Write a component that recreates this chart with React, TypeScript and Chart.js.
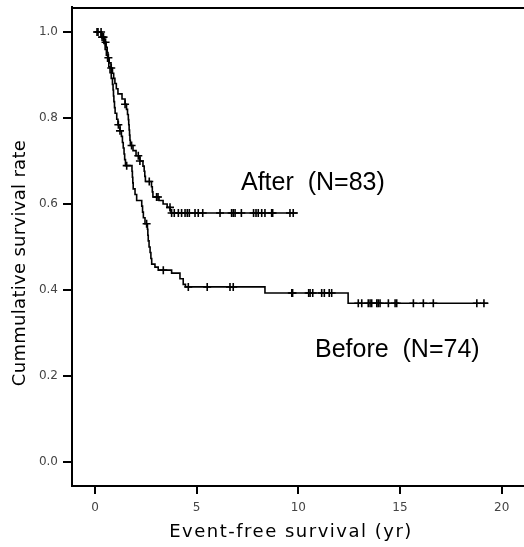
import { useEffect, useRef } from "react";
import { Chart, registerables } from "chart.js";

Chart.register(...registerables);

// Kaplan-Meier step points (time in years, cumulative survival after the event)
const afterTimes = [0, 0.3, 0.45, 0.55, 0.6, 0.64, 0.7, 0.79, 0.86, 0.92, 0.98, 1.05, 1.13, 1.33, 1.48, 1.55, 1.6, 1.64, 1.66, 1.68, 1.7, 1.72, 1.74, 1.87, 2.02, 2.21, 2.36, 2.42, 2.45, 2.48, 2.78, 2.82, 2.85, 3.15, 3.35, 3.55, 3.7, 3.74, 9.98];
const afterSurv = [1.0, 0.988, 0.976, 0.964, 0.952, 0.94, 0.928, 0.916, 0.904, 0.892, 0.88, 0.868, 0.856, 0.844, 0.832, 0.82, 0.808, 0.796, 0.784, 0.772, 0.76, 0.748, 0.736, 0.724, 0.712, 0.7, 0.688, 0.676, 0.664, 0.652, 0.64, 0.628, 0.616, 0.608, 0.6, 0.592, 0.584, 0.579, 0.579];

const beforeTimes = [0, 0.34, 0.44, 0.5, 0.56, 0.62, 0.68, 0.74, 0.8, 0.86, 0.89, 0.91, 0.93, 0.96, 0.99, 1.07, 1.13, 1.23, 1.3, 1.35, 1.39, 1.43, 1.46, 1.5, 1.82, 1.84, 1.86, 1.88, 1.97, 2.05, 2.3, 2.34, 2.38, 2.46, 2.58, 2.6, 2.62, 2.66, 2.71, 2.75, 2.79, 2.95, 3.11, 3.77, 4.18, 4.34, 4.45, 8.36, 12.45, 19.35];
const beforeSurv = [1.0, 0.986, 0.973, 0.959, 0.946, 0.932, 0.919, 0.905, 0.892, 0.878, 0.865, 0.851, 0.838, 0.824, 0.811, 0.797, 0.784, 0.77, 0.757, 0.743, 0.73, 0.716, 0.703, 0.689, 0.676, 0.662, 0.649, 0.635, 0.622, 0.608, 0.595, 0.581, 0.568, 0.554, 0.541, 0.527, 0.514, 0.5, 0.487, 0.473, 0.46, 0.453, 0.446, 0.439, 0.426, 0.413, 0.407, 0.393, 0.369, 0.369];

// Censored observations (years)
const afterCensor = [0.1, 0.35, 0.42, 0.52, 0.66, 0.8, 1.48, 1.8, 2.13, 2.21, 2.67, 3.03, 3.1, 3.69, 3.77, 3.9, 4.1, 4.26, 4.43, 4.54, 4.64, 4.92, 5.08, 5.3, 6.15, 6.72, 6.8, 6.89, 7.2, 7.8, 7.92, 8.03, 8.2, 8.36, 8.69, 8.74, 9.59, 9.75];
const beforeCensor = [0.15, 0.3, 1.15, 1.23, 1.56, 2.54, 3.36, 4.59, 5.52, 6.64, 6.8, 9.68, 9.72, 10.51, 10.58, 10.71, 11.15, 11.28, 11.52, 11.64, 12.95, 13.12, 13.44, 13.53, 13.61, 13.86, 13.93, 14.02, 14.43, 14.76, 14.84, 15.66, 16.15, 16.64, 18.78, 19.13];

const xTicks = [0, 5, 10, 15, 20];
const yTicks = [0, 0.2, 0.4, 0.6, 0.8, 1.0];
const groupLabels = ["After  (N=83)", "Before  (N=74)"];
const xTitle = "Event-free survival (yr)";
const yTitle = "Cummulative survival rate";

function survAt(times: number[], surv: number[], t: number): number {
  let s = surv[0];
  for (let i = 0; i < times.length; i++) {
    if (times[i] <= t) s = surv[i];
  }
  return s;
}

const TICK_FONT = { family: "'DejaVu Sans', sans-serif", size: 12 };

export default function App() {
  const ref = useRef<HTMLCanvasElement | null>(null);

  useEffect(() => {
    if (!ref.current) return;

    const decorations = {
      id: "decorations",
      afterDraw(chart: any) {
        const { ctx, chartArea, scales } = chart;
        const xs = scales.x;
        const ys = scales.y;
        ctx.save();
        // top frame line
        ctx.strokeStyle = "#000";
        ctx.lineWidth = 2;
        ctx.beginPath();
        ctx.moveTo(chartArea.left, chartArea.top + 1);
        ctx.lineTo(chartArea.right, chartArea.top + 1);
        ctx.stroke();

        // group labels
        ctx.fillStyle = "#000";
        ctx.font = "25px 'Liberation Sans', Arial, sans-serif";
        ctx.textAlign = "left";
        ctx.textBaseline = "middle";
        ctx.fillText(groupLabels[0], xs.getPixelForValue(7.18), ys.getPixelForValue(0.649));
        ctx.fillText(groupLabels[1], xs.getPixelForValue(10.82), ys.getPixelForValue(0.26));

        // axis titles
        ctx.font = "18px 'DejaVu Sans', sans-serif";
        ctx.textAlign = "center";
        (ctx as any).letterSpacing = "1.5px";
        ctx.fillText(xTitle, 291, 532);
        (ctx as any).letterSpacing = "0.3px";
        ctx.translate(20, 263);
        ctx.rotate(-Math.PI / 2);
        ctx.fillText(yTitle, 0, 0);
        (ctx as any).letterSpacing = "0px";
        ctx.restore();
      },
    };

    const lineDs = (times: number[], surv: number[]) => ({
      data: times.map((t, i) => ({ x: t, y: surv[i] })),
      showLine: true,
      stepped: true,
      borderColor: "#000",
      borderWidth: 1.6,
      pointRadius: 0,
      fill: false,
    });
    const censorDs = (times: number[], surv: number[], cens: number[]) => ({
      data: cens.map((t) => ({ x: t, y: survAt(times, surv, t) })),
      showLine: false,
      pointStyle: "cross",
      pointRadius: 4,
      borderColor: "#000",
      backgroundColor: "#000",
      borderWidth: 1.6,
    });

    const chart = new Chart(ref.current, {
      type: "scatter",
      data: {
        datasets: [
          lineDs(afterTimes, afterSurv),
          lineDs(beforeTimes, beforeSurv),
          censorDs(afterTimes, afterSurv, afterCensor),
          censorDs(beforeTimes, beforeSurv, beforeCensor),
        ] as any,
      },
      options: {
        animation: false,
        responsive: false,
        maintainAspectRatio: false,
        layout: { autoPadding: false, padding: { top: 7, left: 0, right: 0, bottom: 0 } },
        plugins: { legend: { display: false }, tooltip: { enabled: false } },
        scales: {
          x: {
            type: "linear",
            min: -1.13,
            max: 21.1,
            afterBuildTicks: (s: any) => {
              s.ticks = xTicks.map((v) => ({ value: v }));
            },
            afterFit: (s: any) => {
              s.height = 61;
              s.paddingLeft = 0;
              s.paddingRight = 0;
            },
            grid: { drawOnChartArea: false, drawTicks: true, tickLength: 8, color: "#000", lineWidth: 2 },
            border: { display: true, color: "#000", width: 2 },
            ticks: {
              font: TICK_FONT,
              color: "#444",
              padding: 7,
              maxRotation: 0,
              autoSkip: false,
              callback: (v: any) => String(v),
            },
          },
          y: {
            type: "linear",
            min: -0.056,
            max: 1.058,
            afterBuildTicks: (s: any) => {
              s.ticks = yTicks.map((v) => ({ value: v }));
            },
            afterFit: (s: any) => {
              s.width = 72;
              s.paddingTop = 0;
              s.paddingBottom = 0;
            },
            grid: { drawOnChartArea: false, drawTicks: true, tickLength: 9, color: "#000", lineWidth: 2 },
            border: { display: true, color: "#000", width: 2 },
            ticks: {
              font: TICK_FONT,
              color: "#444",
              padding: 5,
              autoSkip: false,
              callback: (v: any) => Number(v).toFixed(1),
            },
          },
        },
      } as any,
      plugins: [decorations],
    });

    return () => chart.destroy();
  }, []);

  return (
    <div style={{ position: "fixed", left: 0, top: 0, width: 524, height: 547, background: "#fff" }}>
      <canvas ref={ref} width={524} height={547} style={{ display: "block" }} />
    </div>
  );
}
